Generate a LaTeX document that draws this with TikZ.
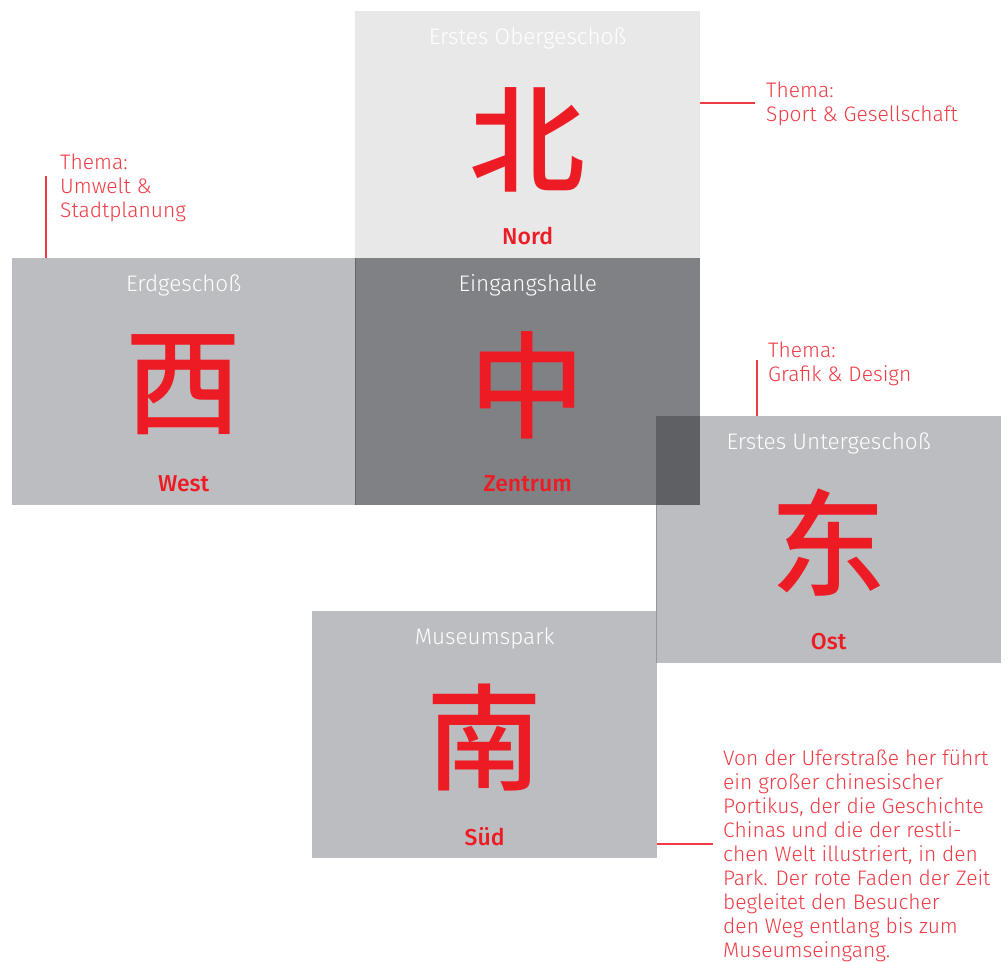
\documentclass[tikz,border=0pt]{standalone}
\usepackage{fontspec}
\setmainfont{Fira Sans}[UprightFont={* Light}, BoldFont={* Medium}]
\newfontfamily\cjk{Noto Sans CJK SC}[UprightFont={* Medium}]
\usetikzlibrary{calc}
\definecolor{cred}{HTML}{ED1C24}
\definecolor{lred}{HTML}{EE3A44}
\definecolor{boxlight}{HTML}{E8E8E9}
\definecolor{boxmid}{HTML}{BCBDC0}
\definecolor{boxdark}{HTML}{808184}
\definecolor{boxover}{HTML}{5F6064}
\tikzset{
  floor/.style={anchor=north west, inner sep=0pt, minimum width=345pt, minimum height=247pt, draw=none},
  title/.style={anchor=base, inner sep=0pt, text=white, font=\fontsize{22.5}{24}\selectfont},
  hanzi/.style={anchor=center, inner sep=0pt, text=cred, font=\cjk\fontsize{116}{116}\selectfont},
  lbl/.style={anchor=base, inner sep=0pt, text=cred, font=\bfseries\fontsize{23}{24}\selectfont},
  note/.style={anchor=base west, inner sep=0pt, align=left, text=lred, font=\fontsize{21}{24}\selectfont},
  lead/.style={draw=lred, line width=1.2pt}
}
\begin{document}
\begin{tikzpicture}[x=1pt,y=-1pt]
\useasboundingbox (0,0) rectangle (1008,961);
% floors
\node[floor, fill=boxlight] (north) at (355,11) {};
\node[floor, fill=boxmid, minimum width=343pt] (west) at (12,258) {};
\node[floor, fill=boxdark] (center) at (355,258) {};
\node[floor, fill=boxmid] (east) at (656,416) {};
\node[floor, fill=boxmid, minimum width=345pt] (south) at (312,611) {};
\fill[boxover] (east.north west) rectangle (center.south east);
\draw[color=black!60, line width=0.8pt] (center.north west) -- (center.south west);
\draw[color=boxmid!80!black, line width=0.6pt] (east.south west) -- (east.west |- center.south);
% titles
\node[title] at ($(north.north)+(0,33)$) {Erstes Obergeschoß};
\node[title] at ($(west.north)+(0,33)$) {Erdgeschoß};
\node[title] at ($(center.north)+(0,33)$) {Eingangshalle};
\node[title] at ($(east.north)+(0,33)$) {Erstes Untergeschoß};
\node[title] at ($(south.north)+(0,33)$) {Museumspark};
% characters
\node[hanzi] at ($(north.north)+(0,129)$) {北};
\node[hanzi] at ($(west.north)+(0,127)$) {西};
\node[hanzi] at ($(center.north)+(0,127)$) {中};
\node[hanzi] at ($(east.north)+(0,127)$) {东};
\node[hanzi] at ($(south.north)+(0,127)$) {南};
% labels
\node[lbl] at ($(north.north)+(0,233)$) {Nord};
\node[lbl] at ($(west.north)+(0,233)$) {West};
\node[lbl] at ($(center.north)+(0,233)$) {Zentrum};
\node[lbl] at ($(east.north)+(0,233)$) {Ost};
\node[lbl] at ($(south.north)+(0,234)$) {Süd};
% notes (anchor = baseline of last line)
\node[note] (nN) at (766,121) {Thema:\\Sport \& Gesellschaft};
\node[note] (nW) at (60,217) {Thema:\\Umwelt \&\\Stadtplanung};
\node[note] (nE) at (768,381) {Thema:\\Grafik \& Design};
\node[note] (nS) at (723,957) {Von der Uferstraße her führt\\ein großer chinesischer\\Portikus, der die Geschichte\\Chinas und die der restli-\\chen Welt illustriert, in den\\Park. Der rote Faden der Zeit\\begleitet den Besucher\\den Weg entlang bis zum\\Museumseingang.};
% leaders
\coordinate (lN) at (755,103);
\coordinate (lW) at (46,176);
\coordinate (lE) at (757,360);
\coordinate (lS) at (713,844);
\draw[lead] (lN -| north.east) -- (lN);
\draw[lead] (lW) -- (lW |- west.north);
\draw[lead] (lE) -- (lE |- east.north);
\draw[lead] (lS -| south.east) -- (lS);
\end{tikzpicture}
\end{document}
